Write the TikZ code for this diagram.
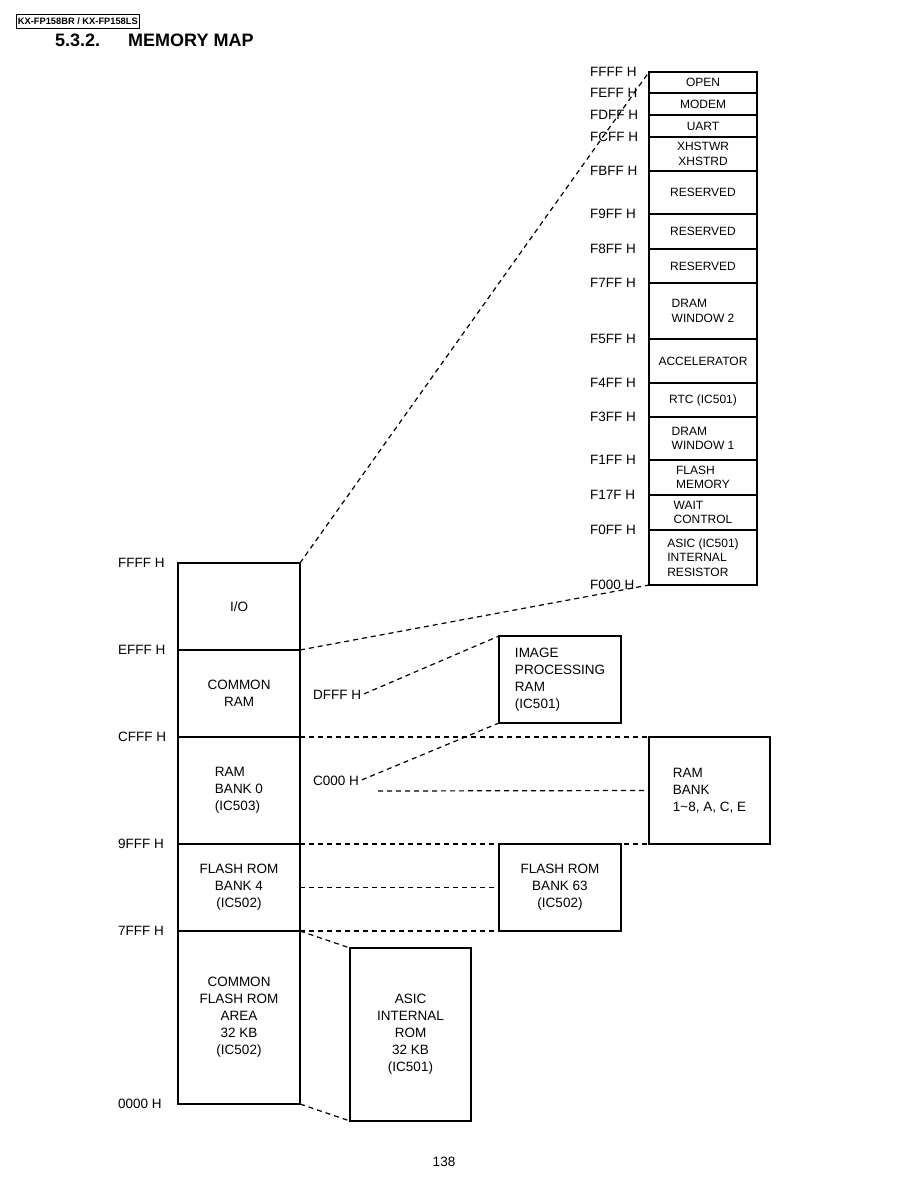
\documentclass[tikz,border=0pt]{standalone}
\usepackage{fontspec}
\setmainfont{Liberation Sans}

\tikzset{
  cell/.style={draw, line width=1.3pt, inner sep=0pt, outer sep=0pt, anchor=north west,
    align=center, font=\fontsize{13.5}{17}\selectfont},
  iocell/.style={cell, minimum width=108pt, font=\fontsize{12}{14.5}\selectfont},
  addr/.style={anchor=west, inner sep=0pt, font=\fontsize{13.5}{15}\selectfont},
  link/.style={line width=1.2pt, dash pattern=on 5pt off 4pt},
}

\begin{document}
\begin{tikzpicture}[x=1pt,y=-1pt]
\useasboundingbox (0,0) rectangle (918,1188);

\node[draw, line width=0.8pt, anchor=west, inner xsep=1.5pt, inner ysep=0pt, minimum height=14pt,
  font=\fontsize{9.3}{10}\selectfont\bfseries] (model) at (16,21.5) {KX-FP158BR / KX-FP158LS};
\node[anchor=west, inner sep=0pt, font=\fontsize{18}{20}\selectfont\bfseries] (secnum) at (55,40) {5.3.2.};
\node[anchor=west, inner sep=0pt, font=\fontsize{18}{20}\selectfont\bfseries] (title) at (128,40) {MEMORY MAP};

% full 64K map
\node[cell, minimum width=122pt, minimum height=87pt] (io) at (178,563) {I/O};
\node[cell, minimum width=122pt, minimum height=87pt] (cram) at (178,650) {COMMON\\RAM};
\node[cell, minimum width=122pt, minimum height=107pt, align=left] (bank0) at (178,737) {RAM\\BANK 0\\(IC503)};
\node[cell, minimum width=122pt, minimum height=87pt] (flash4) at (178,844) {FLASH ROM\\BANK 4\\(IC502)};
\node[cell, minimum width=122pt, minimum height=173pt] (cflash) at (178,931) {COMMON\\FLASH ROM\\AREA\\32 KB\\(IC502)};

\node[addr] (lffff) at (118,563) {FFFF H};
\node[addr] (lefff) at (118,650) {EFFF H};
\node[addr] (lcfff) at (118,737) {CFFF H};
\node[addr] (l9fff) at (118,844) {9FFF H};
\node[addr] (l7fff) at (118,931) {7FFF H};
\node[addr] (l0000) at (118,1104) {0000 H};

% I/O area
\node[iocell, minimum height=21pt] (open) at (649,72) {OPEN};
\node[iocell, minimum height=22pt] (modem) at (649,93) {MODEM};
\node[iocell, minimum height=22pt] (uart) at (649,115) {UART};
\node[iocell, minimum height=34pt] (xhst) at (649,137) {XHSTWR\\XHSTRD};
\node[iocell, minimum height=43pt] (resa) at (649,171) {RESERVED};
\node[iocell, minimum height=35pt] (resb) at (649,214) {RESERVED};
\node[iocell, minimum height=34pt] (resc) at (649,249) {RESERVED};
\node[iocell, minimum height=56pt, align=left] (dram2) at (649,283) {DRAM\\WINDOW 2};
\node[iocell, minimum height=44pt] (accel) at (649,339) {ACCELERATOR};
\node[iocell, minimum height=34pt] (rtc) at (649,383) {RTC (IC501)};
\node[iocell, minimum height=43pt, align=left] (dram1) at (649,417) {DRAM\\WINDOW 1};
\node[iocell, minimum height=35pt, align=left] (flashmem) at (649,460) {FLASH\\MEMORY};
\node[iocell, minimum height=35pt, align=left] (wait) at (649,495) {WAIT\\CONTROL};
\node[iocell, minimum height=55pt, align=left] (asicreg) at (649,530) {ASIC (IC501)\\INTERNAL\\RESISTOR};

\node[addr] (affff) at (590,72) {FFFF H};
\node[addr] (afeff) at (590,93) {FEFF H};
\node[addr] (afdff) at (590,115) {FDFF H};
\node[addr] (afcff) at (590,137) {FCFF H};
\node[addr] (afbff) at (590,171) {FBFF H};
\node[addr] (af9ff) at (590,214) {F9FF H};
\node[addr] (af8ff) at (590,249) {F8FF H};
\node[addr] (af7ff) at (590,283) {F7FF H};
\node[addr] (af5ff) at (590,339) {F5FF H};
\node[addr] (af4ff) at (590,383) {F4FF H};
\node[addr] (af3ff) at (590,417) {F3FF H};
\node[addr] (af1ff) at (590,460) {F1FF H};
\node[addr] (af17f) at (590,495) {F17F H};
\node[addr] (af0ff) at (590,530) {F0FF H};
\node[addr] (af000) at (590,585) {F000 H};

% banks
\node[cell, minimum width=122pt, minimum height=87pt, align=left] (ipr) at (499,636) {IMAGE\\PROCESSING\\RAM\\(IC501)};
\node[cell, minimum width=121pt, minimum height=107pt, align=left] (rambank) at (649,737) {RAM\\BANK\\1\textasciitilde 8, A, C, E};
\node[cell, minimum width=122pt, minimum height=87pt] (flash63) at (499,844) {FLASH ROM\\BANK 63\\(IC502)};
\node[cell, minimum width=121pt, minimum height=173pt] (asicrom) at (350,948) {ASIC\\INTERNAL\\ROM\\32 KB\\(IC501)};

\node[addr] (ldfff) at (313,695) {DFFF H};
\node[addr] (lc000) at (313,781) {C000 H};
\coordinate (bankfrom) at (378,791);

\draw[link] (io.north east) -- (open.north west);
\draw[link] (io.south east) -- (asicreg.south west);
\draw[link, shorten <=3pt] (ldfff.east) -- (ipr.north west);
\draw[link, shorten <=3pt] (lc000.east) -- (ipr.south west);
\draw[link] (bank0.north east) -- (rambank.north west);
\draw[link] (bankfrom) -- (rambank.west);
\draw[link] (bank0.south east) -- (rambank.south west);
\draw[link] (flash4.east) -- (flash63.west);
\draw[link] (flash4.south east) -- (flash63.south west);
\draw[link] (cflash.north east) -- (asicrom.north west);
\draw[link] (cflash.south east) -- (asicrom.south west);

\node[inner sep=0pt, font=\fontsize{13.5}{15}\selectfont] (pageno) at (444,1162) {138};
\end{tikzpicture}
\end{document}
